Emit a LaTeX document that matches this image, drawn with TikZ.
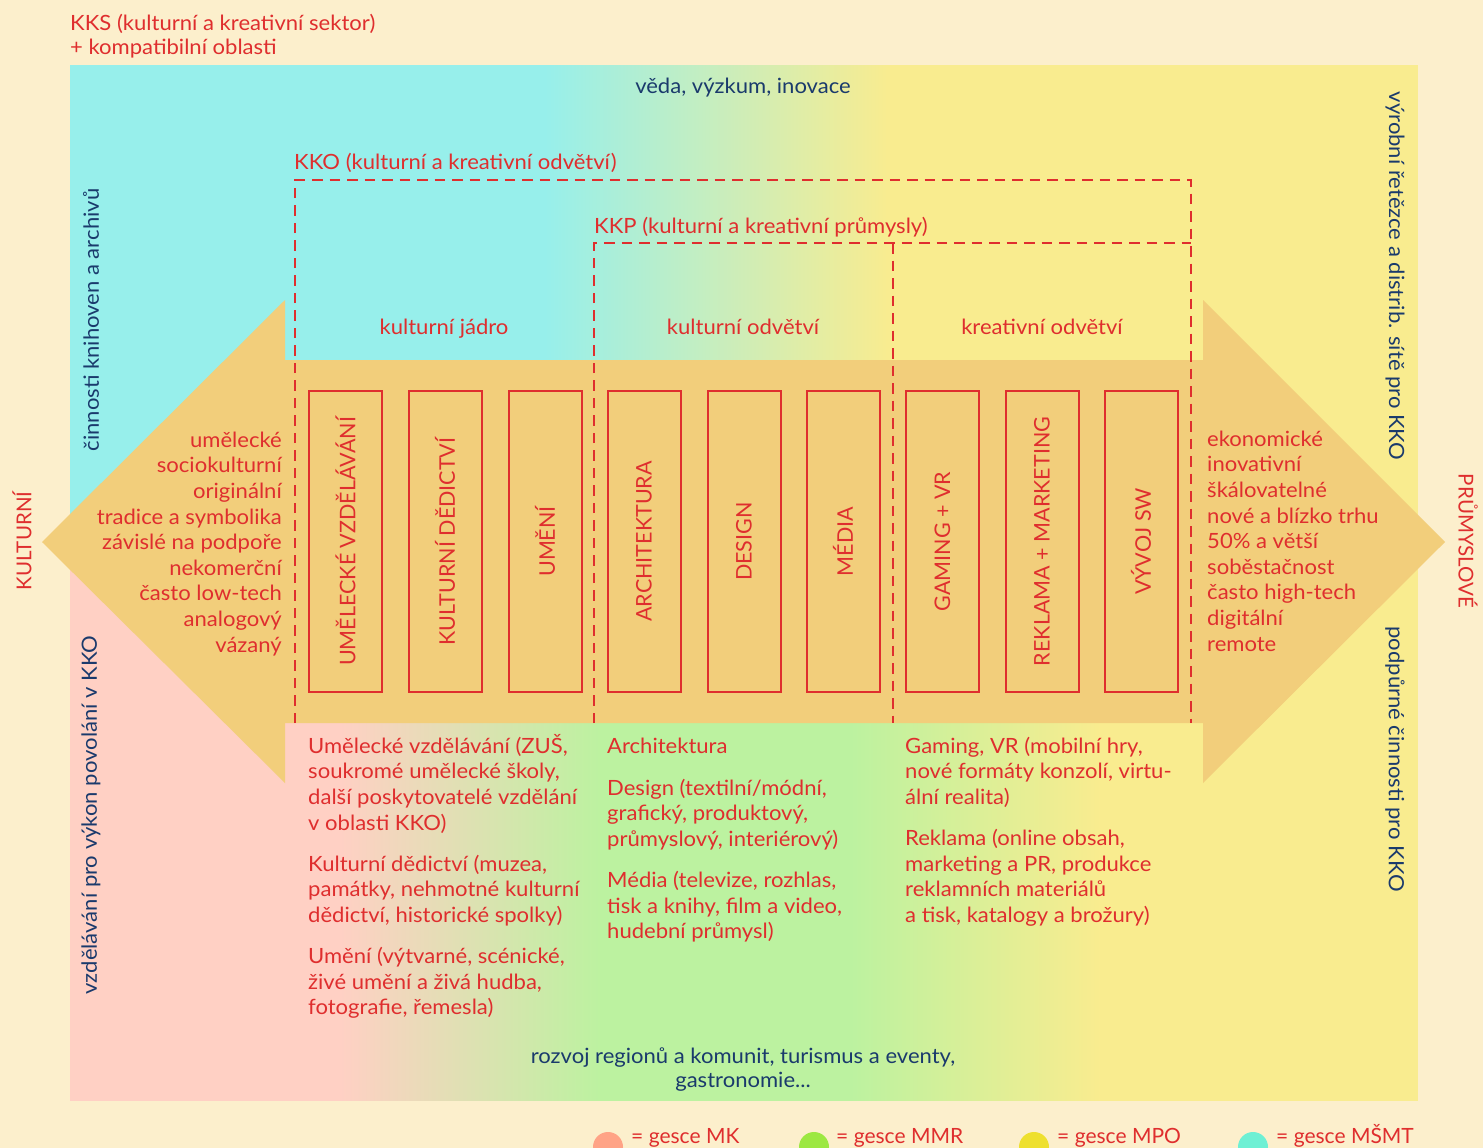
\documentclass[tikz,border=0pt]{standalone}
\usepackage{fontspec}
\setmainfont{Lato}[FakeStretch=1.05]
\newfontfamily\plainfont{Lato}
\definecolor{bgcream}{HTML}{FCEFCC}
\definecolor{cyanA}{HTML}{97EFEB}
\definecolor{yellowA}{HTML}{F9EC8F}
\definecolor{pinkA}{HTML}{FFD0C4}
\definecolor{greenA}{HTML}{BCF2A0}
\definecolor{bandA}{HTML}{F2CE7B}
\definecolor{kred}{HTML}{DF2E2E}
\definecolor{knavy}{HTML}{1A3A6C}
\definecolor{cMK}{HTML}{FFA386}
\definecolor{cMMR}{HTML}{9CE842}
\definecolor{cMPO}{HTML}{EEE02E}
\definecolor{cMSMT}{HTML}{6EF0D4}
\newcommand{\fstrut}{\rule{0pt}{22pt}}
\tikzset{
  redtxt/.style={font=\fontsize{21}{25.6}\selectfont, text=kred, inner sep=0pt},
  navytxt/.style={font=\fontsize{21}{24}\selectfont, text=knavy, inner sep=0pt},
  captxt/.style={font=\plainfont\fontsize{20.5}{24}\selectfont, text=kred, inner sep=0pt},
  catbox/.style={draw=kred, line width=2pt, fill=bandA, rotate=90,
    minimum width=301pt, minimum height=73pt, inner sep=0pt,
    font=\plainfont\fontsize{21.5}{24}\selectfont, text=kred},
  dashline/.style={draw=kred, line width=2pt, dash pattern=on 10.5pt off 7pt},
  legtxt/.style={font=\plainfont\fontsize{21}{24}\selectfont, text=kred, inner sep=0pt, anchor=base west},
}
\begin{document}
\begin{tikzpicture}[x=1pt,y=-1pt]
\useasboundingbox (0,0) rectangle (1483,1148);
\fill[bgcream] (0,0) rectangle (1483,1148);
% top gradient (cyan -> yellow)
\fill[cyanA] (70,65) rectangle (546,542);
\shade[left color=cyanA, right color=yellowA] (545,65) rectangle (891,542);
\fill[yellowA] (890,65) rectangle (1418,542);
% bottom gradient (pink -> green -> yellow)
\fill[pinkA] (70,541) rectangle (341,1101);
\shade[left color=pinkA, right color=greenA] (340,541) rectangle (601,1101);
\fill[greenA] (600,541) rectangle (851,1101);
\shade[left color=greenA, right color=yellowA] (850,541) rectangle (1101,1101);
\fill[yellowA] (1100,541) rectangle (1418,1101);
% clean edges of the shaded strips
\fill[bgcream] (530,58) rectangle (910,65);
\fill[bgcream] (330,1101) rectangle (1110,1110);
% double arrow band
\fill[bandA] (42,542) -- (285,300) -- (285,360) -- (1203,360) -- (1203,300) -- (1445,542)
  -- (1203,783) -- (1203,723) -- (285,723) -- (285,783) -- cycle;
% dashed frames
\draw[dashline] (295,723) -- (295,180) -- (1191,180) -- (1191,723);
\draw[dashline] (594,723) -- (594,243) -- (1191,243);
\draw[dashline] (893,243) -- (893,723);
% category boxes
\node[catbox] (b1) at (345.5,541.5) {UMĚLECKÉ VZDĚLÁVÁNÍ};
\node[catbox] (b2) at (445,541.5) {KULTURNÍ DĚDICTVÍ};
\node[catbox] (b3) at (545,541.5) {UMĚNÍ};
\node[catbox] (b4) at (644,541.5) {ARCHITEKTURA};
\node[catbox] (b5) at (744,541.5) {DESIGN};
\node[catbox] (b6) at (843,541.5) {MÉDIA};
\node[catbox] (b7) at (942.5,541.5) {GAMING + VR};
\node[catbox] (b8) at (1042,541.5) {REKLAMA + MARKETING};
\node[catbox] (b9) at (1141,541.5) {VÝVOJ SW};
% top texts
\node[redtxt, anchor=north west, align=left] (kks) at (70,8)
  {\fstrut KKS (kulturní a kreativní sektor)\\[-1.6pt]+ kompatibilní oblasti};
\node[navytxt, anchor=north] (veda) at (743,71) {\fstrut věda, výzkum, inovace};
\node[redtxt, anchor=north west] (kko) at (294,147) {\fstrut KKO (kulturní a kreativní odvětví)};
\node[redtxt, anchor=north west] (kkp) at (594,211) {\fstrut KKP (kulturní a kreativní průmysly)};
\node[redtxt, anchor=north] (jadro) at (444,312) {\fstrut kulturní jádro};
\node[redtxt, anchor=north] (kodv) at (743,312) {\fstrut kulturní odvětví};
\node[redtxt, anchor=north] (krodv) at (1042,312) {\fstrut kreativní odvětví};
% side lists
\node[redtxt, anchor=north east, align=right] (leftlist) at (282,425)
  {\fstrut umělecké\\sociokulturní\\originální\\tradice a symbolika\\závislé na podpoře\\nekomerční\\často low-tech\\analogový\\vázaný};
\node[redtxt, anchor=north west, align=left] (rightlist) at (1207,424)
  {\fstrut ekonomické\\inovativní\\škálovatelné\\nové a blízko trhu\\50\% a větší\\soběstačnost\\často high-tech\\digitální\\remote};
% vertical side texts
\node[captxt, rotate=90] (kult) at (22,541) {KULTURNÍ};
\node[captxt, rotate=-90] (prum) at (1468,541) {PRŮMYSLOVÉ};
\node[navytxt, rotate=90] (knih) at (91,320) {činnosti knihoven a archivů};
\node[navytxt, rotate=90] (vzdel) at (91,815) {vzdělávání pro výkon povolání v KKO};
\node[navytxt, rotate=-90] (vyrob) at (1395,276) {výrobní řetězce a distrib. sítě pro KKO};
\node[navytxt, rotate=-90] (podp) at (1395,759) {podpůrné činnosti pro KKO};
% bottom columns
\node[redtxt, anchor=north west, align=left] (col1) at (308,731)
  {\fstrut Umělecké vzdělávání (ZUŠ,\\soukromé umělecké školy,\\další poskytovatelé vzdělání\\v oblasti KKO)\\[15.5pt]Kulturní dědictví (muzea,\\památky, nehmotné kulturní\\dědictví, historické spolky)\\[15.5pt]Umění (výtvarné, scénické,\\živé umění a živá hudba,\\fotografie, řemesla)};
\node[redtxt, anchor=north west, align=left] (col2) at (607,731)
  {\fstrut Architektura\\[16.4pt]Design (textilní/módní,\\grafický, produktový,\\průmyslový, interiérový)\\[15.5pt]Média (televize, rozhlas,\\tisk a knihy, film a video,\\hudební průmysl)};
\node[redtxt, anchor=north west, align=left] (col3) at (905,731)
  {\fstrut Gaming, VR (mobilní hry,\\nové formáty konzolí, virtu-\\ální realita)\\[15.5pt]Reklama (online obsah,\\marketing a PR, produkce\\reklamních materiálů\\a tisk, katalogy a brožury)};
\node[navytxt, anchor=north, align=center] (rozvoj) at (743,1041)
  {\fstrut rozvoj regionů a komunit, turismus a eventy,\\gastronomie...};
% legend
\fill[cMK] (608,1147) circle (15);
\fill[cMMR] (814,1147) circle (15);
\fill[cMPO] (1034,1147) circle (15);
\fill[cMSMT] (1253,1147) circle (15);
\node[legtxt] (lmk) at (631,1143) {= gesce MK};
\node[legtxt] (lmmr) at (836,1143) {= gesce MMR};
\node[legtxt] (lmpo) at (1057,1143) {= gesce MPO};
\node[legtxt] (lmsmt) at (1276,1143) {= gesce MŠMT};
\end{tikzpicture}
\end{document}
